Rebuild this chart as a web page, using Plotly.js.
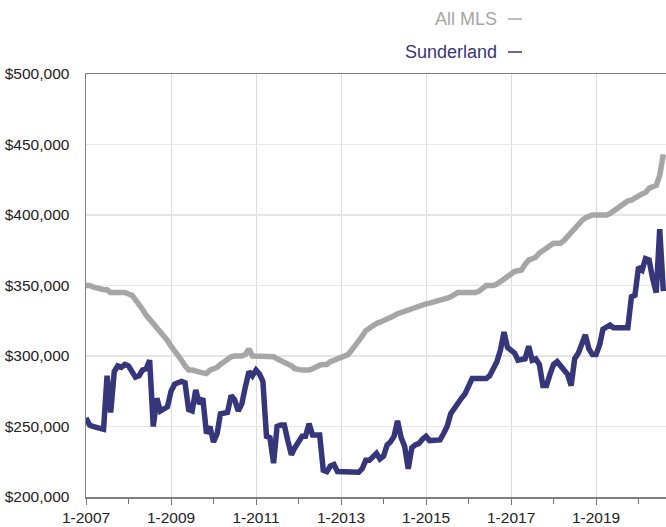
<!DOCTYPE html>
<html>
<head>
<meta charset="utf-8">
<script src="https://cdn.plot.ly/plotly-3.0.1.min.js"></script>
<style>html,body{margin:0;padding:0;background:#fff;}#chart{width:666px;height:527px;}</style>
</head>
<body>
<div id="chart"></div>
<script>
// Monthly values, Jan 2007 .. Aug 2020 (in $)
const startYear = 2007;
const allMLS = [
  350,350,349,348,347,347,347,345,345,345,345,345,
  344,343,340,337,333,329,326,323,321,318,315,311,
  307,304,301,297,293,290,290,289,289,288,287.5,290,
  291,292,294,296,298,299.5,300,300,300,301,305,300,
  300,300,300,300,300,299.5,298,297,295,294,293,291,
  290,290,290,290,291,292.5,293.5,294,294,296,297,298,
  299.5,300,301,304,307,311,314,318,320,322,323,324,
  325,326,327,328.5,330,331,332,332.5,333,334,335,336,
  337,337.5,338,339,340,340.5,341,342,344,345,345,345,
  345,345,345,346,348,350,350,350,351,353,355,357,
  358.5,360,360.5,361,365,368,369,370,373,375,377,379,
  380,380,380,382,385,387,390,394,396,398,399.5,400,
  400,400,400,400,401,403,405,407,409,410,410.5,412,
  414.5,415,416,419,420,421,428,443
].map(v => v * 1000);
const sunderland = [
  256,251,250,249.5,249,248,286,260,289,293,292,294,
  293,289,285,286,290,291,297,250,270,261,262,264,
  275,280,281,282,281,262,261,276,266,270,245,250,
  239,245,259,260,260,272,269,261,266,278,289,286,
  290,287,282,243,242,224,250,251,251,240,230,235,
  240,243,243,252,244,244,244,219,218,222,223,218,
  218,218,218,218,218,217.5,220,226,226,228,231,227,
  229,237,239,243,254,242,236,220,235,237,238,241,
  243,240,240,240,240.5,245,250,259,263,267,270,273,
  278,284,284,284,284,284,286,291,296,304,317,306,
  304,302,297,298,298,307,297,298,294,279,279,287,
  294,296,293,289,287,279,298,302,309,315,305,301,
  301,308,319,321,322,320,320,320,320,320,342,343,
  363,361,369,368,355,345,390,346
].map(v => v * 1000);
const seriesNames = ['All MLS', 'Sunderland'];
const seriesColors = ['#a6a6a6', '#36367a'];

function monthDates(n) {
  const out = [];
  for (let i = 0; i < n; i++) {
    const y = startYear + Math.floor(i / 12);
    const m = (i % 12) + 1;
    out.push(y + '-' + String(m).padStart(2, '0') + '-01');
  }
  return out;
}
const dates = monthDates(allMLS.length);

const font = 'Liberation Sans, Arial, Helvetica, sans-serif';
const traces = [
  {x: dates, y: allMLS, name: seriesNames[0], type: 'scatter', mode: 'lines',
   line: {color: seriesColors[0], width: 5.5}, hoverinfo: 'skip'},
  {x: dates, y: sunderland, name: seriesNames[1], type: 'scatter', mode: 'lines',
   line: {color: seriesColors[1], width: 5.5}, hoverinfo: 'skip'}
];

// legend-like labels with a trailing dash (paper coordinates)
const L = 86, W = 580, T = 74, H = 423;
const px = v => (v - L) / W;
const py = v => 1 - (v - T) / H;
const legendY = [19, 52];
const annotations = seriesNames.map((n, k) => ({
  text: n, xref: 'paper', yref: 'paper', x: px(499), y: py(legendY[k]),
  xanchor: 'right', yanchor: 'middle', showarrow: false,
  font: {family: font, size: 18, color: seriesColors[k]}
}));
const shapes = seriesNames.map((n, k) => ({
  type: 'line', xref: 'paper', yref: 'paper',
  x0: px(508), x1: px(522), y0: py(legendY[k]), y1: py(legendY[k]),
  line: {color: seriesColors[k], width: 1.5}
}));

const layout = {
  width: 666, height: 527,
  margin: {l: L, r: 0, t: T, b: 527 - T - H, pad: 0},
  paper_bgcolor: '#fff', plot_bgcolor: '#fff',
  showlegend: false,
  font: {family: font, size: 15.5, color: '#222'},
  xaxis: {
    type: 'date',
    range: ['2007-01-01', '2020-08-24'],
    tick0: '2007-01-01', dtick: 'M24', tickformat: '%-m-%Y',
    ticks: 'outside', ticklen: 6, tickcolor: '#777', tickwidth: 1,
    showline: true, linecolor: '#808080', linewidth: 1.5, mirror: true,
    showgrid: true, gridcolor: '#dddddd', gridwidth: 1,
    zeroline: false,
    minor: {dtick: 'M12', tick0: '2007-01-01', ticks: 'outside', ticklen: 5, tickcolor: '#777', showgrid: false},
    tickfont: {family: font, size: 15.5, color: '#222'}
  },
  yaxis: {
    range: [200000, 500000], dtick: 50000, tick0: 200000,
    tickprefix: '$', tickformat: ',d',
    showline: true, linecolor: '#808080', linewidth: 1.5,
    showgrid: true, gridcolor: '#e6e6e6', gridwidth: 1.5,
    zeroline: false, ticks: '', ticklabelstandoff: 12,
    tickfont: {family: font, size: 15.5, color: '#222'}
  },
  annotations: annotations,
  shapes: shapes
};

Plotly.newPlot('chart', traces, layout, {staticPlot: true, displayModeBar: false});
</script>
</body>
</html>
